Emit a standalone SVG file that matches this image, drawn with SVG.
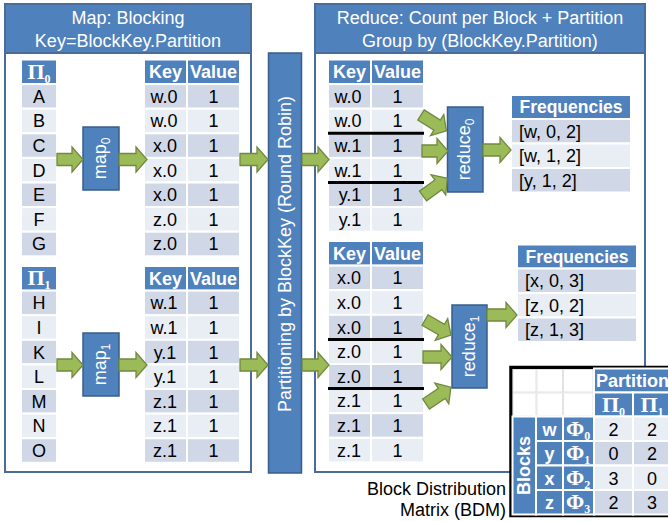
<svg xmlns="http://www.w3.org/2000/svg" width="668" height="521" viewBox="0 0 668 521">
<style>
.pnl{fill:#fff;stroke:#4a6c9b;stroke-width:2}
.hdr{fill:#4f81bd;stroke:#4a6c9b;stroke-width:2}
.d{fill:#d0d8e8;stroke:#fff;stroke-width:2}
.l{fill:#e9edf4;stroke:#fff;stroke-width:2}
.h{fill:#4f81bd;stroke:#fff;stroke-width:2}
.e{fill:#fff;stroke:#e3e3e3;stroke-width:1}
.box{fill:#4f81bd;stroke:#385d8a;stroke-width:1.5}
.arr{fill:#9bbb59;stroke:#71893f;stroke-width:1.3}
.sep{stroke:#000;stroke-width:3}
text{font-family:"Liberation Sans",Arial,sans-serif;font-size:18px;fill:#000;text-anchor:middle}
.b{font-weight:bold;fill:#fff}
.f{font-size:17.5px}
.w{fill:#fff}
.ttl{font-size:18px;fill:#fff}
.sym{font-family:"Liberation Serif","Times New Roman",serif;font-weight:bold;font-size:22px;fill:#fff}
.sub{font-size:12px}
.st{text-anchor:start}
.en{text-anchor:end}
</style>

<g id="map-panel">
<rect class="pnl" x="5" y="4" width="246" height="468"/>
<rect class="hdr" x="5" y="4" width="246" height="49"/>
<text class="ttl" x="128" y="24">Map: Blocking</text>
<text class="ttl" x="128" y="47">Key=BlockKey.Partition</text>
</g>

<g id="reduce-panel">
<rect class="pnl" x="315" y="4" width="330" height="468"/>
<rect class="hdr" x="315" y="4" width="330" height="49"/>
<text class="ttl" x="480" y="24">Reduce: Count per Block + Partition</text>
<text class="ttl" x="480" y="47">Group by (BlockKey.Partition)</text>
</g>

<g id="pi0-table">
<rect class="h" x="21" y="59.5" width="36" height="24.6"/>
<text class="sym" x="39" y="78.5">Π<tspan class="sub" dy="4">0</tspan></text>
<rect class="d" x="21" y="84.1" width="36" height="24.6"/><text x="39" y="102.8">A</text>
<rect class="l" x="21" y="108.7" width="36" height="24.6"/><text x="39" y="127.4">B</text>
<rect class="d" x="21" y="133.3" width="36" height="24.6"/><text x="39" y="152">C</text>
<rect class="l" x="21" y="157.9" width="36" height="24.6"/><text x="39" y="176.6">D</text>
<rect class="d" x="21" y="182.5" width="36" height="24.6"/><text x="39" y="201.2">E</text>
<rect class="l" x="21" y="207.1" width="36" height="24.6"/><text x="39" y="225.8">F</text>
<rect class="d" x="21" y="231.7" width="36" height="24.6"/><text x="39" y="250.4">G</text>
</g>

<g id="pi1-table">
<rect class="h" x="21" y="266" width="36" height="24.6"/>
<text class="sym" x="39" y="285">Π<tspan class="sub" dy="4">1</tspan></text>
<rect class="d" x="21" y="290.6" width="36" height="24.6"/><text x="39" y="309.3">H</text>
<rect class="l" x="21" y="315.2" width="36" height="24.6"/><text x="39" y="333.9">I</text>
<rect class="d" x="21" y="339.8" width="36" height="24.6"/><text x="39" y="358.5">K</text>
<rect class="l" x="21" y="364.4" width="36" height="24.6"/><text x="39" y="383.1">L</text>
<rect class="d" x="21" y="389" width="36" height="24.6"/><text x="39" y="407.7">M</text>
<rect class="l" x="21" y="413.6" width="36" height="24.6"/><text x="39" y="432.3">N</text>
<rect class="d" x="21" y="438.2" width="36" height="24.6"/><text x="39" y="456.9">O</text>
</g>

<g id="map0">
<rect class="box" x="83" y="127" width="36" height="63"/>
<text class="w" font-size="18" transform="translate(101,158.5) rotate(-90)" x="0" y="5">map<tspan class="sub" dy="4">0</tspan></text>
</g>
<g id="map1">
<rect class="box" x="83" y="333" width="36" height="63"/>
<text class="w" font-size="18" transform="translate(101,364.5) rotate(-90)" x="0" y="5">map<tspan class="sub" dy="4">1</tspan></text>
</g>

<g id="map0-output">
<rect class="h" x="144" y="59.5" width="43" height="24.6"/><rect class="h" x="187" y="59.5" width="53" height="24.6"/>
<text class="b" x="165.5" y="78.3">Key</text><text class="b" x="213.5" y="78.3">Value</text>
<rect class="d" x="144" y="84.1" width="43" height="24.6"/><rect class="d" x="187" y="84.1" width="53" height="24.6"/>
<rect class="l" x="144" y="108.7" width="43" height="24.6"/><rect class="l" x="187" y="108.7" width="53" height="24.6"/>
<rect class="d" x="144" y="133.3" width="43" height="24.6"/><rect class="d" x="187" y="133.3" width="53" height="24.6"/>
<rect class="l" x="144" y="157.9" width="43" height="24.6"/><rect class="l" x="187" y="157.9" width="53" height="24.6"/>
<rect class="d" x="144" y="182.5" width="43" height="24.6"/><rect class="d" x="187" y="182.5" width="53" height="24.6"/>
<rect class="l" x="144" y="207.1" width="43" height="24.6"/><rect class="l" x="187" y="207.1" width="53" height="24.6"/>
<rect class="d" x="144" y="231.7" width="43" height="24.6"/><rect class="d" x="187" y="231.7" width="53" height="24.6"/>
<text x="164" y="102.8">w.0</text><text x="213.5" y="102.8">1</text>
<text x="164" y="127.4">w.0</text><text x="213.5" y="127.4">1</text>
<text x="165" y="152">x.0</text><text x="213.5" y="152">1</text>
<text x="165" y="176.6">x.0</text><text x="213.5" y="176.6">1</text>
<text x="165" y="201.2">x.0</text><text x="213.5" y="201.2">1</text>
<text x="165" y="225.8">z.0</text><text x="213.5" y="225.8">1</text>
<text x="165" y="250.4">z.0</text><text x="213.5" y="250.4">1</text>
</g>

<g id="map1-output">
<rect class="h" x="144" y="266" width="43" height="24.6"/><rect class="h" x="187" y="266" width="53" height="24.6"/>
<text class="b" x="165.5" y="284.7">Key</text><text class="b" x="213.5" y="284.7">Value</text>
<rect class="d" x="144" y="290.6" width="43" height="24.6"/><rect class="d" x="187" y="290.6" width="53" height="24.6"/>
<rect class="l" x="144" y="315.2" width="43" height="24.6"/><rect class="l" x="187" y="315.2" width="53" height="24.6"/>
<rect class="d" x="144" y="339.8" width="43" height="24.6"/><rect class="d" x="187" y="339.8" width="53" height="24.6"/>
<rect class="l" x="144" y="364.4" width="43" height="24.6"/><rect class="l" x="187" y="364.4" width="53" height="24.6"/>
<rect class="d" x="144" y="389" width="43" height="24.6"/><rect class="d" x="187" y="389" width="53" height="24.6"/>
<rect class="l" x="144" y="413.6" width="43" height="24.6"/><rect class="l" x="187" y="413.6" width="53" height="24.6"/>
<rect class="d" x="144" y="438.2" width="43" height="24.6"/><rect class="d" x="187" y="438.2" width="53" height="24.6"/>
<text x="164" y="309.3">w.1</text><text x="213.5" y="309.3">1</text>
<text x="164" y="333.9">w.1</text><text x="213.5" y="333.9">1</text>
<text x="165" y="358.5">y.1</text><text x="213.5" y="358.5">1</text>
<text x="165" y="383.1">y.1</text><text x="213.5" y="383.1">1</text>
<text x="165" y="407.7">z.1</text><text x="213.5" y="407.7">1</text>
<text x="165" y="432.3">z.1</text><text x="213.5" y="432.3">1</text>
<text x="165" y="456.9">z.1</text><text x="213.5" y="456.9">1</text>
</g>

<g id="partitioner">
<rect class="box" x="268.5" y="53" width="33" height="420"/>
<text class="w" font-size="17.5" transform="translate(285,254) rotate(-90)" x="0" y="6">Partitioning by BlockKey (Round Robin)</text>
</g>

<g id="reduce0-input">
<rect class="h" x="328" y="59.5" width="43" height="24.6"/><rect class="h" x="371" y="59.5" width="53" height="24.6"/>
<text class="b" x="349.5" y="78.3">Key</text><text class="b" x="397.5" y="78.3">Value</text>
<rect class="d" x="328" y="84.1" width="43" height="24.6"/><rect class="d" x="371" y="84.1" width="53" height="24.6"/>
<rect class="l" x="328" y="108.7" width="43" height="24.6"/><rect class="l" x="371" y="108.7" width="53" height="24.6"/>
<rect class="d" x="328" y="133.3" width="43" height="24.6"/><rect class="d" x="371" y="133.3" width="53" height="24.6"/>
<rect class="l" x="328" y="157.9" width="43" height="24.6"/><rect class="l" x="371" y="157.9" width="53" height="24.6"/>
<rect class="d" x="328" y="182.5" width="43" height="24.6"/><rect class="d" x="371" y="182.5" width="53" height="24.6"/>
<rect class="l" x="328" y="207.1" width="43" height="24.6"/><rect class="l" x="371" y="207.1" width="53" height="24.6"/>
<text x="348" y="102.8">w.0</text><text x="397.5" y="102.8">1</text>
<text x="348" y="127.4">w.0</text><text x="397.5" y="127.4">1</text>
<text x="348" y="152">w.1</text><text x="397.5" y="152">1</text>
<text x="348" y="176.6">w.1</text><text x="397.5" y="176.6">1</text>
<text x="350" y="201.2">y.1</text><text x="397.5" y="201.2">1</text>
<text x="350" y="225.8">y.1</text><text x="397.5" y="225.8">1</text>
<line class="sep" x1="328" y1="133.3" x2="424" y2="133.3"/>
<line class="sep" x1="328" y1="182.5" x2="424" y2="182.5"/>
</g>

<g id="reduce1-input">
<rect class="h" x="328" y="241" width="43" height="24.6"/><rect class="h" x="371" y="241" width="53" height="24.6"/>
<text class="b" x="349.5" y="259.7">Key</text><text class="b" x="397.5" y="259.7">Value</text>
<rect class="d" x="328" y="265.6" width="43" height="24.6"/><rect class="d" x="371" y="265.6" width="53" height="24.6"/>
<rect class="l" x="328" y="290.2" width="43" height="24.6"/><rect class="l" x="371" y="290.2" width="53" height="24.6"/>
<rect class="d" x="328" y="314.8" width="43" height="24.6"/><rect class="d" x="371" y="314.8" width="53" height="24.6"/>
<rect class="l" x="328" y="339.4" width="43" height="24.6"/><rect class="l" x="371" y="339.4" width="53" height="24.6"/>
<rect class="d" x="328" y="364" width="43" height="24.6"/><rect class="d" x="371" y="364" width="53" height="24.6"/>
<rect class="l" x="328" y="388.6" width="43" height="24.6"/><rect class="l" x="371" y="388.6" width="53" height="24.6"/>
<rect class="d" x="328" y="413.2" width="43" height="24.6"/><rect class="d" x="371" y="413.2" width="53" height="24.6"/>
<rect class="l" x="328" y="437.8" width="43" height="24.6"/><rect class="l" x="371" y="437.8" width="53" height="24.6"/>
<text x="349" y="284.3">x.0</text><text x="397.5" y="284.3">1</text>
<text x="349" y="308.9">x.0</text><text x="397.5" y="308.9">1</text>
<text x="349" y="333.5">x.0</text><text x="397.5" y="333.5">1</text>
<text x="349" y="358.1">z.0</text><text x="397.5" y="358.1">1</text>
<text x="349" y="382.7">z.0</text><text x="397.5" y="382.7">1</text>
<text x="349" y="407.3">z.1</text><text x="397.5" y="407.3">1</text>
<text x="349" y="431.9">z.1</text><text x="397.5" y="431.9">1</text>
<text x="349" y="456.5">z.1</text><text x="397.5" y="456.5">1</text>
<line class="sep" x1="328" y1="339.4" x2="424" y2="339.4"/>
<line class="sep" x1="328" y1="388.6" x2="424" y2="388.6"/>
</g>

<g id="reduce0">
<rect class="box" x="447.5" y="107" width="35.5" height="85"/>
<text class="w" font-size="18" transform="translate(465,149.5) rotate(-90)" x="0" y="5">reduce<tspan class="sub" dy="4">0</tspan></text>
</g>
<g id="reduce1">
<rect class="box" x="452" y="305" width="35" height="83"/>
<text class="w" font-size="18" transform="translate(469.5,346.5) rotate(-90)" x="0" y="5">reduce<tspan class="sub" dy="4">1</tspan></text>
</g>

<g id="freq0">
<rect class="h" x="511" y="95" width="120" height="24"/>
<text class="b f" x="571" y="113">Frequencies</text>
<rect class="d" x="511" y="119" width="120" height="24.5"/><text class="st" x="519" y="137.7">[w, 0, 2]</text>
<rect class="l" x="511" y="143.5" width="120" height="24.5"/><text class="st" x="519" y="162.2">[w, 1, 2]</text>
<rect class="d" x="511" y="168" width="120" height="24.5"/><text class="st" x="519" y="186.7">[y, 1, 2]</text>
</g>
<g id="freq1">
<rect class="h" x="517" y="244.5" width="120" height="24"/>
<text class="b f" x="577" y="262.5">Frequencies</text>
<rect class="d" x="517" y="268.5" width="120" height="24.5"/><text class="st" x="525" y="287.2">[x, 0, 3]</text>
<rect class="l" x="517" y="293" width="120" height="24.5"/><text class="st" x="525" y="311.7">[z, 0, 2]</text>
<rect class="d" x="517" y="317.5" width="120" height="24.5"/><text class="st" x="525" y="336.2">[z, 1, 3]</text>
</g>

<g id="connectors">
<polygon class="arr" points="57,153.5 72,153.5 72,147 83,159.5 72,172 72,165.5 57,165.5"/>
<polygon class="arr" points="119,153.5 136,153.5 136,147 147,159.5 136,172 136,165.5 119,165.5"/>
<polygon class="arr" points="240,153.5 257,153.5 257,147 268,159.5 257,172 257,165.5 240,165.5"/>
<polygon class="arr" points="302,153.5 318,153.5 318,147 329,159.5 318,172 318,165.5 302,165.5"/>
<polygon class="arr" points="57,359 72,359 72,352.5 83,365 72,377.5 72,371 57,371"/>
<polygon class="arr" points="119,359 136,359 136,352.5 147,365 136,377.5 136,371 119,371"/>
<polygon class="arr" points="240,359 257,359 257,352.5 268,365 257,377.5 257,371 240,371"/>
<polygon class="arr" points="302,359 318,359 318,352.5 329,365 318,377.5 318,371 302,371"/>
<polygon class="arr" points="0,-6 19,-6 19,-12.5 30,0 19,12.5 19,6 0,6" transform="translate(421,115) rotate(32)"/>
<polygon class="arr" points="422,145 437,145 437,138.5 448,151 437,163.5 437,157 422,157"/>
<polygon class="arr" points="0,-6 19,-6 19,-12.5 30,0 19,12.5 19,6 0,6" transform="translate(423,196) rotate(-36)"/>
<polygon class="arr" points="483,144 500,144 500,137.5 511,150 500,162.5 500,156 483,156"/>
<polygon class="arr" points="0,-6 19,-6 19,-12.5 30,0 19,12.5 19,6 0,6" transform="translate(425,320) rotate(30)"/>
<polygon class="arr" points="423,351 441,351 441,344.5 452,357 441,369.5 441,363 423,363"/>
<polygon class="arr" points="0,-6 19,-6 19,-12.5 30,0 19,12.5 19,6 0,6" transform="translate(426,404) rotate(-34)"/>
<polygon class="arr" points="487,309 506,309 506,302.5 517,315 506,327.5 506,321 487,321"/>
</g>

<g id="bdm">
<rect x="511" y="367.5" width="170" height="148" fill="#fff" stroke="#000" stroke-width="3.5"/>
<rect class="e" x="513" y="369.5" width="23" height="22.5"/><rect class="e" x="537" y="369.5" width="25.5" height="22.5"/><rect class="e" x="563.5" y="369.5" width="29.5" height="22.5"/>
<rect class="e" x="513" y="393" width="23" height="23"/><rect class="e" x="537" y="393" width="25.5" height="23"/><rect class="e" x="563.5" y="393" width="29.5" height="23"/>
<rect class="h" x="594" y="368.5" width="80" height="24"/>
<text class="b st" font-size="16" x="596" y="386.5">Partition</text>
<rect class="h" x="594" y="392.5" width="39" height="24"/><rect class="h" x="633" y="392.5" width="40" height="24"/>
<text class="sym" x="613.5" y="411.5">Π<tspan class="sub" dy="4">0</tspan></text>
<text class="sym" x="652" y="411.5">Π<tspan class="sub" dy="4">1</tspan></text>
<rect class="h" x="512.5" y="416.5" width="23.5" height="98"/>
<text class="b" transform="translate(524,465.5) rotate(-90)" x="0" y="6">Blocks</text>
<rect class="h" x="536" y="416.5" width="27" height="24.5"/><rect class="h" x="563" y="416.5" width="31" height="24.5"/><rect class="l" x="594" y="416.5" width="39" height="24.5"/><rect class="l" x="633" y="416.5" width="40" height="24.5"/>
<rect class="h" x="536" y="441" width="27" height="24.5"/><rect class="h" x="563" y="441" width="31" height="24.5"/><rect class="d" x="594" y="441" width="39" height="24.5"/><rect class="d" x="633" y="441" width="40" height="24.5"/>
<rect class="h" x="536" y="465.5" width="27" height="24.5"/><rect class="h" x="563" y="465.5" width="31" height="24.5"/><rect class="l" x="594" y="465.5" width="39" height="24.5"/><rect class="l" x="633" y="465.5" width="40" height="24.5"/>
<rect class="h" x="536" y="490" width="27" height="24.5"/><rect class="h" x="563" y="490" width="31" height="24.5"/><rect class="d" x="594" y="490" width="39" height="24.5"/><rect class="d" x="633" y="490" width="40" height="24.5"/>
<text class="b" x="549.5" y="435.5">w</text><text class="sym" x="578" y="435.5">Φ<tspan class="sub" dy="4">0</tspan></text><text x="613.5" y="435.5">2</text><text x="652" y="435.5">2</text>
<text class="b" x="549.5" y="460">y</text><text class="sym" x="578" y="460">Φ<tspan class="sub" dy="4">1</tspan></text><text x="613.5" y="460">0</text><text x="652" y="460">2</text>
<text class="b" x="549.5" y="484.5">x</text><text class="sym" x="578" y="484.5">Φ<tspan class="sub" dy="4">2</tspan></text><text x="613.5" y="484.5">3</text><text x="652" y="484.5">0</text>
<text class="b" x="549.5" y="509">z</text><text class="sym" x="578" y="509">Φ<tspan class="sub" dy="4">3</tspan></text><text x="613.5" y="509">2</text><text x="652" y="509">3</text>
</g>

<g id="bdm-caption">
<text class="en" font-size="19" x="506" y="495">Block Distribution</text>
<text class="en" font-size="19" x="506" y="516">Matrix (BDM)</text>
</g>
</svg>
